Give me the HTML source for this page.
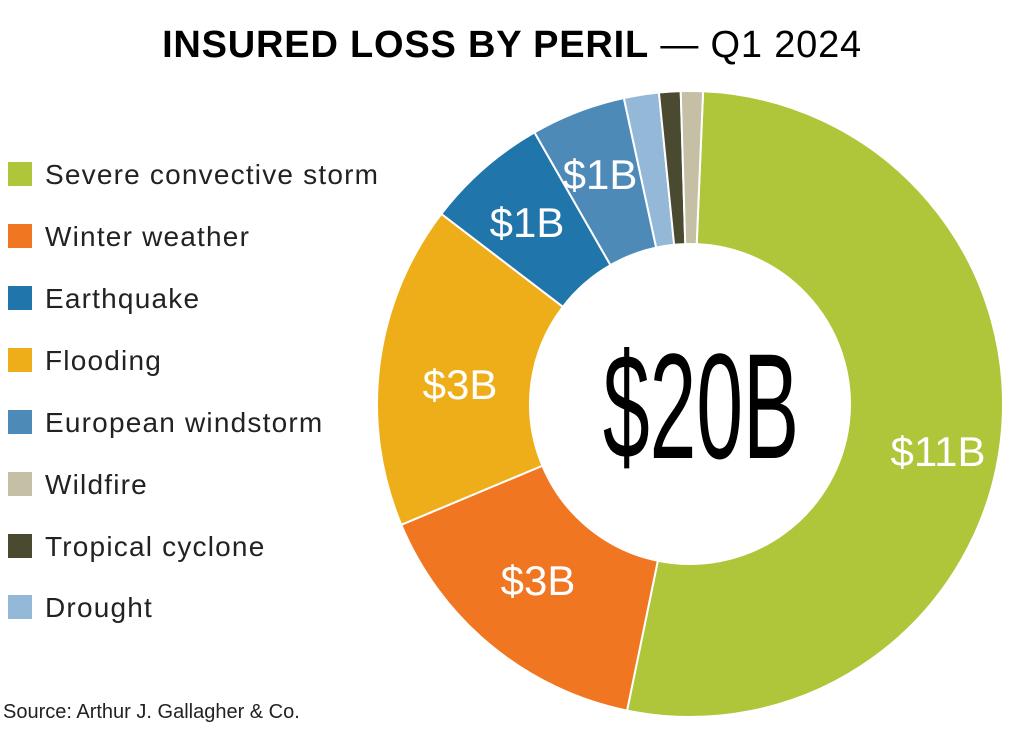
<!DOCTYPE html>
<html><head><meta charset="utf-8"><style>
body{margin:0;background:#fff;width:1024px;height:747px;overflow:hidden;font-family:"Liberation Sans",sans-serif}
</style></head><body>
<svg id="s" width="1024" height="747" xmlns="http://www.w3.org/2000/svg">
<text x="512" y="57" text-anchor="middle" font-size="38" letter-spacing="0.8" font-family="Liberation Sans, sans-serif"><tspan font-weight="bold">INSURED LOSS BY PERIL</tspan> — Q1 2024</text>
<g id="pie"></g>
<g fill="#fff" font-size="42" text-anchor="middle" font-family="Liberation Sans, sans-serif">
<text x="938" y="466">$11B</text>
<text x="538" y="595">$3B</text>
<text x="460" y="399">$3B</text>
<text x="527" y="237">$1B</text>
<text x="600" y="189">$1B</text>
</g>
<text x="0" y="0" font-size="150" text-anchor="middle" transform="translate(701,458) scale(0.56,1)" font-family="Liberation Sans, sans-serif">$20B</text>
<g font-size="28" letter-spacing="1.2" font-family="Liberation Sans, sans-serif" fill="#222">
<rect x="8" y="162" width="24" height="24" fill="#afc53a"/><text x="45" y="184">Severe convective storm</text>
<rect x="8" y="224" width="24" height="24" fill="#f07622"/><text x="45" y="246">Winter weather</text>
<rect x="8" y="286" width="24" height="24" fill="#2075aa"/><text x="45" y="308">Earthquake</text>
<rect x="8" y="348" width="24" height="24" fill="#eeae1a"/><text x="45" y="370">Flooding</text>
<rect x="8" y="410" width="24" height="24" fill="#4e8ab8"/><text x="45" y="432">European windstorm</text>
<rect x="8" y="472" width="24" height="24" fill="#c5bfa6"/><text x="45" y="494">Wildfire</text>
<rect x="8" y="534" width="24" height="24" fill="#4a4a30"/><text x="45" y="556">Tropical cyclone</text>
<rect x="8" y="595" width="24" height="24" fill="#93b8d8"/><text x="45" y="617">Drought</text>
</g>
<text x="3" y="718" font-size="20" font-family="Liberation Sans, sans-serif" fill="#222">Source: Arthur J. Gallagher &amp; Co.</text>
</svg>
<script>
var cx=690,cy=404,R=313,r=160;
var seg=[[2.4,191.6,"#afc53a"],[191.6,247.3,"#f07622"],[247.3,307.4,"#eeae1a"],[307.4,330.2,"#2075aa"],[330.2,347.8,"#4e8ab8"],[347.8,354.3,"#93b8d8"],[354.3,358.3,"#4a4a30"],[358.3,362.4,"#c5bfa6"]];
function p(a,rad){a=a*Math.PI/180;return [cx+rad*Math.sin(a),cy-rad*Math.cos(a)];}
var g=document.getElementById("pie"),h="";
seg.forEach(function(s){var a=s[0],b=s[1],l=(b-a)>180?1:0;
var p1=p(a,R),p2=p(b,R),p3=p(b,r),p4=p(a,r);
h+='<path d="M'+p1+' A'+R+' '+R+' 0 '+l+' 1 '+p2+' L'+p3+' A'+r+' '+r+' 0 '+l+' 0 '+p4+'Z" fill="'+s[2]+'" stroke="#fff" stroke-width="2"/>';});
g.innerHTML=h;
</script>
</body></html>
